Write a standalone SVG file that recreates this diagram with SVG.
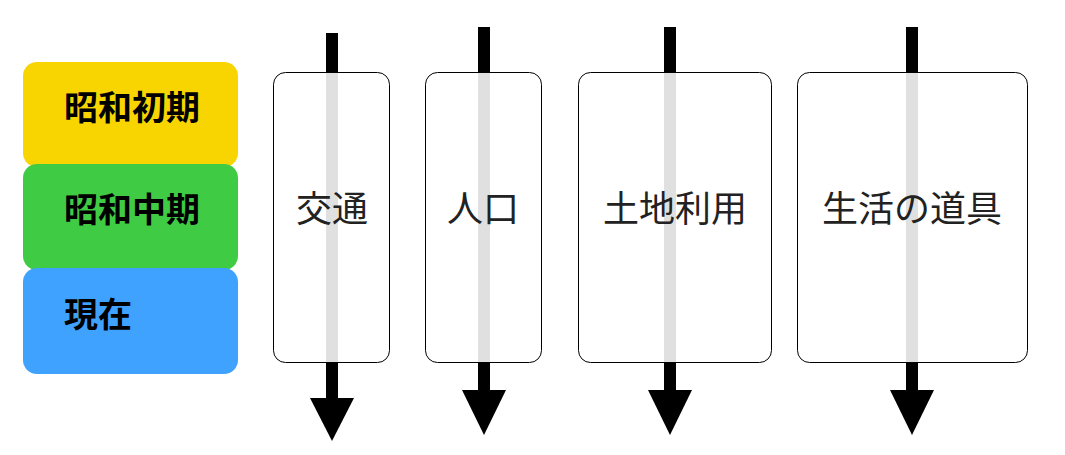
<svg xmlns="http://www.w3.org/2000/svg" width="1065" height="455" viewBox="0 0 1065 455">
<style>
.lbl{font-family:"Noto Sans CJK JP","Noto Sans",sans-serif;font-weight:bold;font-size:34px;fill:#000}
.col{fill:#fff;fill-opacity:0.88;stroke:#000;stroke-width:1}
.ct{font-family:"Noto Sans CJK JP","Noto Sans",sans-serif;font-size:36px;fill:#222;text-anchor:middle}
.ln{stroke:#000;stroke-width:12}
</style>
<rect width="1065" height="455" fill="#fff"/>
<g id="showa-early"><rect x="23" y="62" width="215" height="105" rx="14" fill="#f8d500"/><text class="lbl" x="64" y="120">昭和初期</text></g>
<g id="showa-mid"><rect x="23" y="164" width="215" height="106" rx="14" fill="#3fcc44"/><text class="lbl" x="64" y="222">昭和中期</text></g>
<g id="present"><rect x="23" y="268" width="215" height="106" rx="14" fill="#3fa2ff"/><text class="lbl" x="64" y="327">現在</text></g>
<g id="connectors">
<line class="ln" x1="332" y1="33" x2="332" y2="400"/><polygon points="310,398 354,398 332,441"/>
<line class="ln" x1="484" y1="27" x2="484" y2="392"/><polygon points="462,390 506,390 484,435"/>
<line class="ln" x1="670" y1="27" x2="670" y2="392"/><polygon points="648,390 692,390 670,435"/>
<line class="ln" x1="912" y1="27" x2="912" y2="392"/><polygon points="890,390 934,390 912,435"/>
</g>
<g id="traffic"><rect class="col" x="273.5" y="72.5" width="116" height="290" rx="12"/><text class="ct" x="332" y="222">交通</text></g>
<g id="population"><rect class="col" x="425.5" y="72.5" width="116" height="290" rx="12"/><text class="ct" x="483" y="222">人口</text></g>
<g id="landuse"><rect class="col" x="578.5" y="72.5" width="193" height="290" rx="12"/><text class="ct" x="675" y="222">土地利用</text></g>
<g id="tools"><rect class="col" x="797.5" y="72.5" width="230" height="290" rx="12"/><text class="ct" x="912" y="222">生活の道具</text></g>
</svg>
